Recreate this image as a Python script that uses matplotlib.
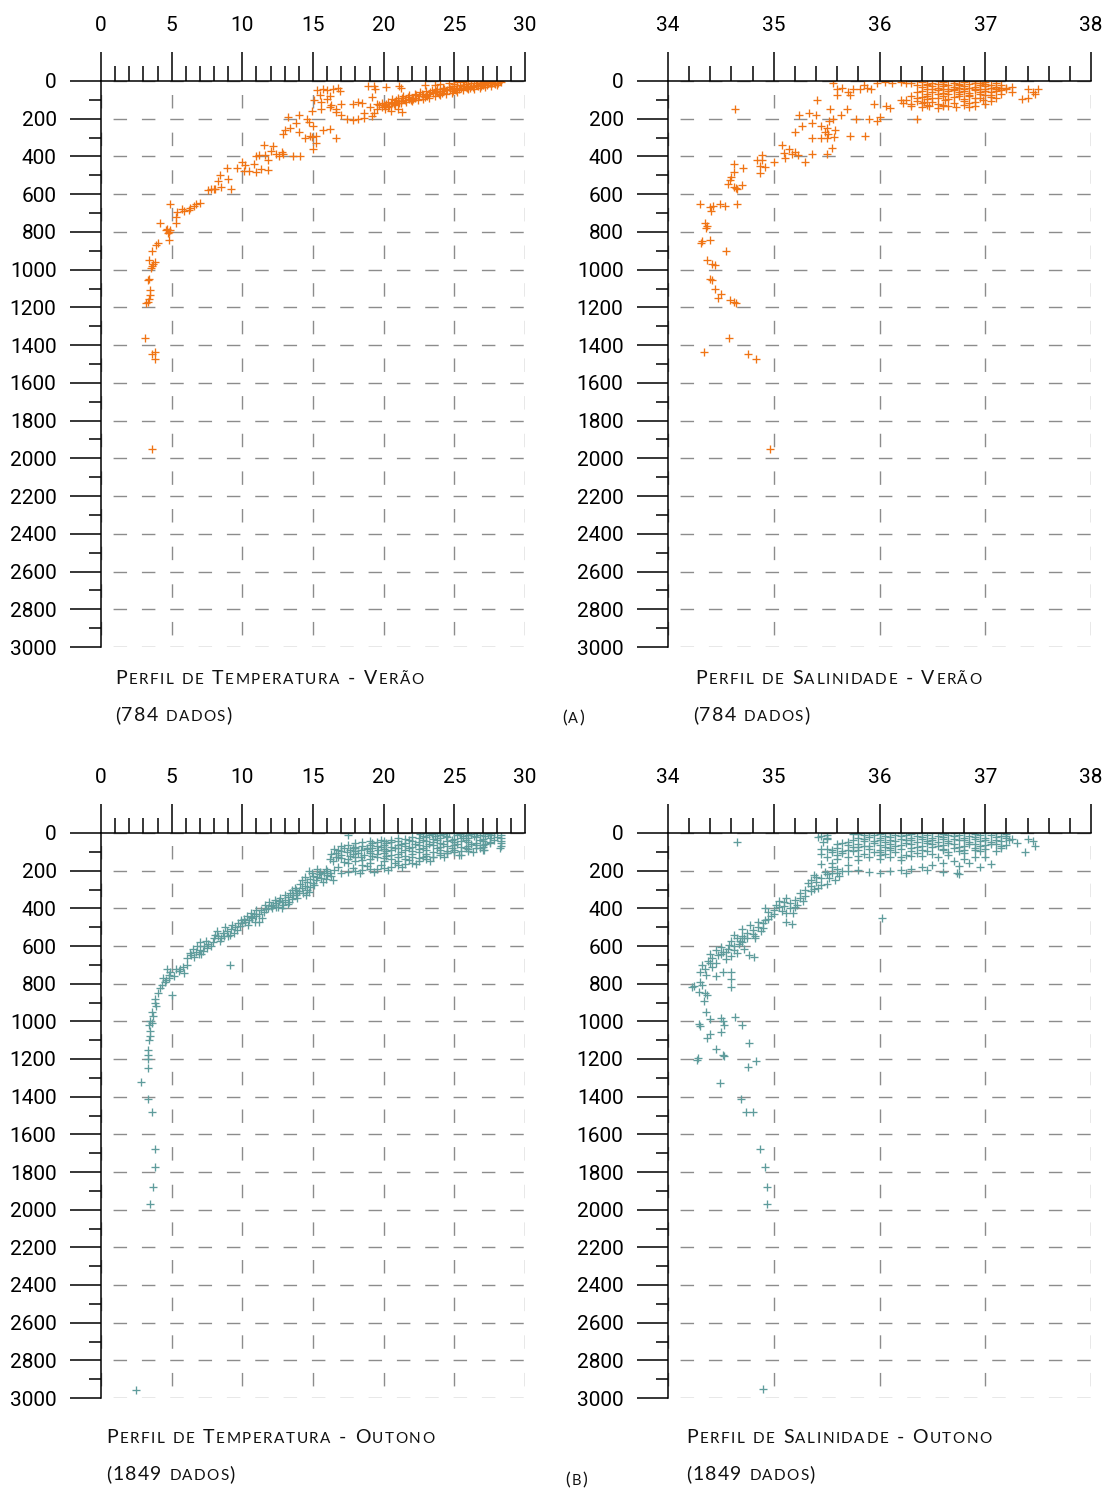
import matplotlib.pyplot as plt
import numpy as np
from matplotlib.ticker import MultipleLocator

W, H = 1106, 1490
LARANJA = '#f07414'
VERDE = '#5f9c9c'
FONTE_EIXO = 'Roboto'
FONTE_TEXTO = 'Lato'

# (temperatura, profundidade) - verao
verao_temp = [
    (28.3, 5), (28.0, 8), (27.8, 12), (27.5, 10), (27.2, 15), (27.0, 20), (26.8, 18), (26.5, 22),
    (26.2, 28), (26.0, 25), (25.8, 32), (25.5, 35), (25.2, 40), (25.0, 38), (24.8, 45), (24.5, 50),
    (24.2, 55), (24.0, 52), (23.8, 60), (23.5, 65), (23.2, 70), (23.0, 72), (22.8, 78), (22.5, 82),
    (22.2, 88), (22.0, 92), (21.8, 95), (21.5, 100), (21.2, 105), (21.0, 108), (20.8, 112),
    (20.5, 115), (20.2, 120), (20.0, 125),
    (28.0, 20), (27.6, 25), (27.2, 30), (26.8, 35), (26.4, 40), (26.0, 45), (25.6, 50), (25.2, 58),
    (24.8, 62), (24.4, 70), (24.0, 75), (23.6, 82), (23.2, 88), (22.8, 95), (22.4, 100),
    (22.0, 108), (21.6, 112), (21.2, 118), (20.8, 125), (20.4, 130),
    (28.2, 0), (27.8, 0), (27.4, 2), (27.0, 5), (26.6, 8), (26.2, 12), (25.8, 15), (25.4, 20),
    (25.0, 25), (24.6, 30), (24.2, 38), (23.8, 42), (23.4, 50), (23.0, 55), (22.6, 60),
    (22.2, 68), (21.8, 75), (21.4, 80), (21.0, 88), (20.6, 95),
    (28.1, 10), (27.9, 15), (27.7, 8), (27.3, 20), (27.1, 10), (26.9, 25), (26.7, 28), (26.3, 32),
    (26.1, 35), (25.9, 38), (25.7, 25), (25.3, 45), (25.1, 50), (24.9, 55), (24.7, 40), (24.3, 45),
    (24.1, 65), (23.9, 70), (23.7, 55), (23.3, 60), (23.1, 80), (22.9, 85), (22.7, 70), (22.3, 75),
    (22.1, 98), (21.9, 102), (21.7, 85), (21.3, 92), (21.1, 115), (20.9, 100), (20.7, 120),
    (20.3, 110), (20.1, 132), (19.9, 118), (19.7, 128), (19.5, 122),
    (25.2, 5), (25.6, 3), (26.0, 0), (26.4, 2), (26.8, 0), (27.2, 0), (27.6, 5), (24.6, 10), (24.0, 15),
    (18.9, 25), (19.3, 25), (19.4, 45), (20.2, 30), (21.1, 25), (21.2, 38), (22.9, 20), (23.6, 20),
    (25.0, 15),
    (17.8, 120), (18.2, 110), (18.5, 115), (19.2, 85), (19.0, 140), (19.5, 150), (18.6, 170),
    (20.1, 150), (20.5, 160), (21.0, 150), (21.3, 165), (19.9, 140), (20.3, 140),
    (15.3, 50), (15.7, 42), (16.0, 48), (16.4, 45), (16.8, 38), (16.9, 55), (15.5, 75), (16.2, 80),
    (15.1, 100), (15.6, 110), (16.0, 95), (17.0, 120), (16.2, 140), (16.6, 150), (15.6, 150),
    (17.0, 180), (17.4, 200), (17.8, 205), (18.2, 200), (18.6, 195), (19.2, 185), (19.3, 170),
    (16.6, 165), (16.3, 125), (14.9, 160),
    (13.2, 190), (14.0, 180), (13.8, 225), (14.6, 200), (14.7, 215), (13.0, 258), (13.4, 248),
    (14.0, 270), (14.8, 290), (14.9, 295), (15.2, 290), (15.7, 260), (16.2, 255), (16.6, 300),
    (15.0, 240), (14.4, 300), (15.0, 360), (15.2, 330), (12.9, 280),
    (11.5, 340), (12.2, 345), (11.2, 390), (11.6, 392), (12.4, 385), (12.8, 375), (13.6, 395),
    (14.1, 395), (12.0, 370), (11.8, 420), (11.0, 400), (12.6, 395), (12.9, 385),
    (10.0, 430), (10.8, 440), (11.3, 465), (11.8, 470), (10.5, 475), (10.1, 475), (11.0, 480),
    (10.2, 445), (9.6, 460),
    (8.9, 460), (8.4, 500), (8.3, 530), (9.2, 570), (8.0, 575), (7.6, 578), (8.1, 570), (9.0, 520),
    (7.8, 575), (8.5, 560),
    (4.9, 652), (5.4, 692), (5.7, 678), (6.2, 682), (6.3, 672), (6.7, 650), (7.0, 645), (6.6, 660),
    (5.9, 690), (5.3, 720),
    (4.2, 754), (4.7, 782), (4.8, 798), (4.9, 790), (5.3, 751), (4.8, 843), (4.6, 790), (4.75, 805),
    (4.0, 860), (3.9, 870), (3.6, 900), (3.4, 949), (3.8, 958), (3.6, 980), (3.55, 990), (3.7, 970),
    (3.3, 1055), (3.4, 1050), (3.5, 1108), (3.5, 1134), (3.4, 1157), (3.2, 1178), (3.3, 1170),
    (3.1, 1360), (3.6, 1449), (3.8, 1434), (3.8, 1475), (3.6, 1950),
]

# (salinidade, profundidade) - verao
verao_sal = [
    (36.3, 10), (36.4, 5), (36.5, 8), (36.6, 5), (36.7, 10), (36.8, 5), (36.9, 8), (37.0, 5),
    (37.1, 10), (36.45, 15), (36.75, 15), (36.95, 12),
    (36.35, 20), (36.45, 22), (36.55, 18), (36.65, 20), (36.75, 22), (36.85, 18), (36.95, 22),
    (37.05, 20), (37.15, 22), (36.7, 0), (36.9, 0), (37.0, 15), (36.6, 15),
    (36.4, 30), (36.5, 25), (36.55, 35), (36.6, 28), (36.65, 40), (36.7, 30), (36.75, 38),
    (36.8, 25), (36.85, 35), (36.9, 30), (36.95, 40), (37.0, 28), (37.05, 35), (37.1, 30),
    (37.15, 38), (37.2, 35), (37.25, 32), (36.45, 40),
    (36.5, 45), (36.6, 45), (36.7, 42), (36.8, 45), (36.9, 42), (37.0, 45), (37.1, 45), (37.2, 45),
    (36.4, 55), (36.5, 60), (36.55, 50), (36.6, 62), (36.65, 55), (36.7, 50), (36.75, 60),
    (36.8, 55), (36.85, 65), (36.9, 50), (36.95, 58), (37.0, 52), (37.05, 60), (37.1, 55),
    (37.15, 50), (36.35, 60),
    (36.45, 68), (36.55, 70), (36.65, 70), (36.75, 68), (36.85, 72), (36.95, 70), (37.05, 72),
    (37.15, 68), (37.25, 60),
    (36.3, 80), (36.4, 85), (36.45, 78), (36.5, 88), (36.6, 80), (36.7, 85), (36.75, 78),
    (36.85, 82), (36.9, 90), (37.0, 75), (37.05, 85), (36.55, 92),
    (36.35, 92), (36.45, 95), (36.65, 95), (36.8, 95), (36.95, 88), (37.1, 92),
    (36.25, 100), (36.35, 105), (36.42, 112), (36.5, 110), (36.55, 120), (36.62, 100),
    (36.7, 115), (36.8, 105), (36.9, 110), (36.98, 100), (37.05, 105), (36.45, 125),
    (36.3, 120), (36.4, 118), (36.6, 125), (36.65, 130), (36.8, 125), (36.85, 118), (36.3, 135),
    (36.55, 145), (36.85, 140), (37.0, 120),
    (36.4, 140), (36.6, 135), (36.72, 140), (36.9, 135), (36.47, 130), (36.2, 100), (36.22, 115),
    (37.4, 40), (37.45, 60), (37.5, 45), (37.4, 90), (37.35, 95), (37.47, 70),
    (36.05, 5), (36.12, 8), (36.2, 5), (36.25, 10),
    (35.56, 10), (35.6, 45), (35.65, 35), (35.7, 60), (35.75, 45), (35.82, 45), (35.88, 35),
    (35.92, 45), (35.98, 10), (35.72, 75), (35.85, 20), (35.6, 75),
    (35.41, 100), (35.53, 150), (35.69, 150), (35.95, 120), (36.06, 135), (36.1, 145), (36.35, 200),
    (35.24, 180), (35.33, 170), (35.4, 180), (35.52, 210), (35.56, 200), (35.64, 180), (35.78, 200),
    (35.9, 200), (36.0, 190), (35.98, 210),
    (35.27, 240), (35.36, 225), (35.45, 240), (35.48, 270), (35.5, 250), (35.58, 260), (35.2, 270),
    (35.36, 300), (35.45, 300), (35.5, 300), (35.57, 295), (35.72, 290), (35.86, 290), (35.51, 280),
    (35.08, 340), (35.14, 360), (35.1, 380), (35.17, 385), (35.2, 375), (35.23, 390), (35.36, 385),
    (35.5, 388), (35.55, 355), (35.11, 410), (35.3, 430),
    (34.89, 390), (34.84, 420), (34.89, 420), (34.87, 450), (34.92, 455), (35.0, 430), (34.62, 440),
    (34.71, 460), (34.62, 480), (34.87, 490), (34.6, 510),
    (34.57, 545), (34.62, 560), (34.64, 565), (34.7, 550), (34.59, 525), (34.65, 570),
    (34.3, 650), (34.4, 670), (34.43, 660), (34.49, 650), (34.54, 665), (34.65, 650), (34.41, 690),
    (34.35, 750), (34.37, 770), (34.36, 780), (34.31, 860), (34.32, 850), (34.4, 843), (34.55, 900),
    (34.37, 950), (34.42, 970), (34.44, 975), (34.4, 1050), (34.42, 1055), (34.44, 1105),
    (34.5, 1130), (34.47, 1150), (34.59, 1160), (34.62, 1170), (34.64, 1178), (34.58, 1360),
    (34.34, 1438), (34.76, 1449), (34.83, 1475), (34.96, 1950), (34.63, 150),
]

# (temperatura, profundidade) - outono
outono_temp = [
    (22.6, 5), (23.0, 0), (23.4, 3), (23.8, 0), (24.2, 5), (24.6, 2), (25.0, 0), (25.4, 4),
    (25.8, 0), (26.2, 5), (26.6, 2), (27.0, 0), (27.4, 5), (27.8, 2), (23.2, 10), (24.0, 12),
    (25.2, 10), (26.0, 12), (26.8, 10), (27.6, 12),
    (22.8, 15), (23.6, 15), (24.4, 15), (25.6, 15), (26.4, 15), (27.2, 18),
    (21.0, 25), (21.5, 30), (22.0, 22), (22.5, 28), (23.0, 20), (23.5, 30), (24.0, 25), (24.5, 22),
    (25.0, 30), (25.5, 25), (26.0, 28), (26.5, 22), (27.0, 30), (27.5, 25), (28.0, 20), (20.5, 35),
    (19.8, 38),
    (21.8, 35), (22.8, 38), (23.8, 38), (24.8, 38), (25.8, 38), (26.8, 38), (27.8, 35),
    (18.5, 50), (19.0, 45), (19.5, 50), (20.0, 42), (20.5, 48), (21.0, 45), (21.5, 52), (22.0, 45),
    (22.5, 50), (23.0, 42), (23.5, 48), (24.0, 52), (24.5, 45), (25.0, 50), (25.5, 42), (26.0, 48),
    (26.5, 52), (27.0, 45), (27.5, 50), (18.0, 55),
    (19.2, 55), (20.2, 55), (21.2, 58), (22.2, 58), (23.2, 58), (24.2, 58), (25.2, 58), (26.2, 58),
    (27.2, 58),
    (17.0, 70), (17.5, 65), (18.0, 72), (18.5, 68), (19.0, 62), (19.5, 70), (20.0, 65), (20.5, 72),
    (21.0, 62), (21.5, 68), (22.0, 75), (22.5, 65), (23.0, 70), (23.5, 62), (24.0, 72), (24.5, 68),
    (25.0, 62), (25.5, 75), (26.0, 70), (26.5, 65), (27.0, 72),
    (17.8, 78), (18.8, 78), (19.8, 76), (20.8, 78), (21.8, 80), (22.8, 78), (23.8, 80), (24.8, 78),
    (25.8, 80), (26.8, 80),
    (16.5, 85), (16.8, 90), (17.2, 80), (17.6, 88), (18.0, 82), (18.4, 92), (18.8, 85), (19.2, 80),
    (19.6, 90), (20.0, 85), (20.5, 92), (21.0, 82), (21.5, 88), (22.0, 95), (22.5, 85), (23.0, 92),
    (24.0, 90), (25.0, 88), (26.0, 95), (27.0, 90),
    (17.0, 95), (18.0, 98), (19.0, 95), (20.2, 98), (21.2, 100), (22.5, 102), (23.5, 100),
    (24.5, 95), (24.0, 105), (23.0, 120),
    (16.3, 110), (16.6, 105), (17.0, 115), (17.4, 100), (17.8, 110), (18.2, 105), (18.6, 115),
    (19.0, 108), (19.5, 112), (20.0, 105), (20.5, 118), (21.0, 110), (21.5, 120), (22.0, 112),
    (23.0, 110), (24.5, 105), (25.5, 115),
    (16.8, 125), (17.6, 122), (18.4, 125), (19.2, 120), (20.2, 122), (21.0, 128), (22.0, 125),
    (16.2, 140), (16.6, 130), (17.0, 135), (17.5, 140), (18.0, 130), (19.0, 140), (20.0, 135),
    (21.5, 140), (22.5, 135), (23.5, 130), (16.4, 150), (17.2, 152), (18.5, 145), (21.0, 150),
    (28.3, 10), (28.3, 25), (28.3, 40), (28.3, 55), (28.3, 70), (28.2, 80), (27.1, 90), (17.5, 10),
    (16.0, 200), (16.5, 195), (17.0, 210), (17.5, 205), (18.0, 200), (18.5, 198), (19.0, 192),
    (19.5, 190), (20.0, 185), (20.5, 180), (21.0, 172), (21.5, 165), (22.0, 158), (22.5, 150),
    (23.0, 140), (23.5, 125), (24.0, 115), (24.5, 108), (25.0, 100), (25.5, 95), (26.0, 85),
    (26.5, 78), (27.0, 65), (27.5, 55), (16.8, 180), (17.8, 185), (18.8, 175), (19.8, 168),
    (20.8, 160), (21.8, 145), (22.8, 128), (18.3, 215), (19.3, 205), (20.3, 195), (21.3, 180),
    (22.3, 165), (23.3, 150), (24.3, 130), (25.3, 115), (26.3, 100),
    (17.5, 160), (18.0, 150), (18.5, 170), (19.0, 160), (20.0, 150), (20.5, 140), (19.5, 130),
    (14.6, 260), (14.8, 245), (15.0, 230), (15.2, 250), (15.4, 220), (15.6, 240), (15.8, 210),
    (16.0, 225), (15.0, 265), (15.5, 205), (16.2, 215), (14.9, 215), (15.3, 190), (16.4, 250),
    (15.7, 260), (14.7, 200), (15.9, 190),
    (14.2, 250), (15.3, 235), (15.9, 245), (16.3, 230), (14.4, 235), (15.1, 275),
    (13.2, 340), (13.4, 320), (13.6, 330), (13.8, 300), (14.0, 310), (14.2, 290), (14.4, 280),
    (13.5, 350), (13.9, 345), (14.3, 320), (14.6, 300), (13.0, 330), (14.1, 270), (13.7, 290),
    (14.8, 285), (14.5, 330), (13.5, 305), (13.9, 320), (14.7, 315), (13.3, 365), (13.8, 330),
    (11.8, 400), (12.0, 385), (12.2, 380), (12.4, 370), (12.6, 360), (12.8, 365), (13.0, 355),
    (12.1, 400), (12.5, 395), (12.9, 380), (11.6, 380), (12.3, 355), (13.2, 375),
    (12.7, 345), (12.4, 395), (11.9, 365), (12.8, 400),
    (9.8, 495), (10.0, 480), (10.2, 470), (10.5, 460), (10.7, 450), (11.0, 440), (11.2, 430),
    (11.5, 420), (10.4, 490), (10.9, 470), (11.4, 450), (10.3, 440), (11.0, 410), (9.9, 460),
    (11.7, 405), (10.6, 425), (10.8, 430), (11.3, 410), (10.1, 455), (10.6, 445), (11.2, 470),
    (8.0, 555), (8.3, 545), (8.6, 530), (8.9, 520), (9.2, 510), (9.5, 500), (8.5, 555), (9.0, 545),
    (9.4, 530), (8.2, 520), (9.7, 480), (8.8, 500), (9.1, 540), (9.3, 490), (8.7, 545), (9.6, 515),
    (8.1, 540),
    (6.1, 665), (6.4, 650), (6.7, 630), (7.0, 620), (7.3, 600), (7.6, 590), (7.9, 580), (6.6, 660),
    (7.1, 645), (7.5, 610), (6.8, 600), (7.0, 580), (7.8, 600), (6.3, 635), (9.1, 700),
    (7.4, 575), (7.2, 625), (6.9, 640), (6.5, 615), (8.4, 575),
    (5.5, 735), (6.1, 700), (4.8, 752), (4.8, 770), (4.3, 805), (4.2, 822), (5.0, 860), (5.3, 720),
    (4.6, 780), (5.8, 710), (4.9, 740), (4.5, 790), (3.8, 884), (5.2, 760),
    (5.6, 720), (5.9, 745), (4.4, 770), (4.7, 720),
    (4.0, 850), (3.8, 900), (3.6, 950), (3.5, 1000), (3.4, 1020), (3.5, 1050), (3.45, 1080),
    (3.4, 1100), (3.35, 1150), (3.3, 1180), (3.35, 1200), (3.3, 1250), (3.6, 1010), (3.7, 970),
    (3.9, 920), (2.8, 1320), (3.3, 1415), (3.6, 1480), (3.8, 1680), (3.8, 1775), (3.7, 1880),
    (3.5, 1970), (2.5, 2960),
]

# (salinidade, profundidade) - outono
outono_sal = [
    (35.8, 5), (35.9, 0), (36.0, 5), (36.1, 2), (36.2, 0), (36.3, 5), (36.4, 2), (36.5, 0),
    (36.6, 5), (36.7, 2), (36.8, 0), (36.9, 5), (37.0, 2), (37.1, 0), (37.2, 5), (35.5, 10),
    (35.45, 15),
    (35.75, 5), (35.85, 12), (35.95, 12), (36.05, 15), (36.15, 10), (36.25, 12), (36.35, 14),
    (36.45, 10), (36.55, 14), (36.65, 12), (36.75, 10), (36.85, 14), (36.95, 12), (37.05, 10),
    (37.15, 14),
    (35.8, 25), (35.9, 20), (36.0, 28), (36.1, 22), (36.2, 18), (36.3, 25), (36.4, 20), (36.5, 28),
    (36.6, 22), (36.7, 18), (36.8, 25), (36.9, 20), (37.0, 28), (37.1, 22), (37.2, 18), (37.25, 30),
    (35.5, 30),
    (35.75, 35), (35.85, 32), (36.0, 35), (36.1, 35), (36.2, 30), (36.3, 35), (36.4, 32), (36.5, 35),
    (36.6, 32), (36.7, 30), (36.8, 35), (36.9, 32), (37.0, 38), (37.1, 35), (37.2, 25),
    (35.7, 50), (35.85, 45), (35.95, 40), (36.05, 48), (36.15, 42), (36.25, 38), (36.35, 46),
    (36.45, 40), (36.55, 48), (36.65, 42), (36.75, 36), (36.85, 46), (36.95, 40), (37.05, 48),
    (37.15, 42), (37.22, 38), (35.47, 50),
    (35.65, 55), (35.75, 72), (35.85, 70), (35.95, 55), (36.05, 72), (36.15, 68), (36.25, 52),
    (36.35, 72), (36.45, 55), (36.55, 70), (36.65, 52), (36.75, 72), (36.85, 56), (36.95, 70),
    (37.05, 56), (37.15, 70),
    (35.6, 60), (35.7, 65), (35.8, 58), (35.9, 68), (36.0, 62), (36.1, 56), (36.2, 66), (36.3, 60),
    (36.4, 70), (36.5, 58), (36.6, 64), (36.7, 56), (36.8, 68), (36.9, 60), (37.0, 66), (37.1, 58),
    (37.2, 62),
    (35.5, 85), (35.6, 80), (35.7, 88), (35.8, 76), (35.9, 84), (36.0, 90), (36.1, 78), (36.2, 86),
    (36.3, 80), (36.4, 90), (36.5, 76), (36.6, 84), (36.7, 80), (36.8, 88), (36.9, 78), (37.0, 85),
    (37.15, 80),
    (35.55, 92), (35.65, 95), (35.8, 92), (36.0, 100), (36.1, 92), (36.3, 95), (36.45, 96),
    (36.6, 92), (36.75, 95), (36.9, 92), (37.1, 95),
    (35.45, 110), (35.55, 100), (35.65, 108), (35.75, 98), (35.85, 112), (35.95, 102),
    (36.05, 110), (36.15, 100), (36.25, 115), (36.35, 105), (36.5, 110), (36.65, 100),
    (36.8, 108), (36.95, 98),
    (35.6, 118), (35.8, 120), (36.0, 118), (36.2, 125), (36.4, 122), (36.65, 115),
    (35.5, 125), (35.7, 130), (35.9, 125), (36.1, 130), (36.3, 120), (36.55, 128),
    (35.6, 140), (35.8, 145), (36.0, 140), (36.2, 145),
    (37.4, 30), (37.45, 45), (37.47, 70), (37.38, 100), (37.3, 55),
    (35.42, 20), (35.5, 25), (35.45, 85), (34.65, 48),
    (35.45, 165), (35.55, 180), (35.6, 190), (35.7, 200), (35.8, 195), (35.9, 205), (36.0, 210),
    (36.1, 200), (36.2, 195), (36.3, 190), (36.4, 180), (36.5, 172), (36.6, 160), (36.7, 150),
    (36.8, 140), (36.9, 130), (37.0, 125), (36.45, 195), (36.6, 205), (36.25, 210), (36.75, 175),
    (36.85, 160), (36.73, 215), (37.05, 165), (36.95, 180), (36.75, 220),
    (35.3, 300), (35.35, 280), (35.4, 260), (35.45, 240), (35.5, 220), (35.55, 210), (35.35, 310),
    (35.42, 290), (35.5, 270), (35.58, 250), (35.62, 230), (35.4, 235), (35.48, 205), (35.32, 265),
    (35.65, 200), (35.55, 160), (35.7, 170), (35.38, 225),
    (35.35, 250), (35.45, 275), (35.52, 240), (35.6, 215), (35.25, 320), (35.38, 295),
    (34.95, 420), (35.0, 410), (35.05, 395), (35.1, 385), (35.15, 370), (35.2, 355), (35.25, 345),
    (35.0, 430), (35.08, 415), (35.15, 400), (35.22, 380), (35.28, 360), (35.12, 345), (35.3, 335),
    (34.92, 400), (35.05, 360), (35.18, 425), (35.1, 365), (35.2, 395), (35.02, 380), (35.12, 425),
    (34.97, 440),
    (34.6, 575), (34.65, 560), (34.7, 545), (34.75, 530), (34.8, 515), (34.85, 500), (34.9, 480),
    (34.68, 575), (34.75, 560), (34.82, 545), (34.88, 520), (34.92, 460), (34.7, 510),
    (34.78, 490), (34.62, 540), (34.95, 455), (34.85, 470), (34.8, 535), (34.72, 560), (34.9, 505),
    (34.38, 680), (34.42, 665), (34.47, 650), (34.52, 630), (34.57, 615), (34.62, 600),
    (34.67, 590), (34.4, 640), (34.5, 605), (34.55, 670), (34.6, 655), (34.45, 620), (34.72, 615),
    (34.65, 635), (34.7, 580), (34.58, 595), (34.5, 640), (34.45, 690), (34.55, 630), (34.62, 620),
    (36.02, 450), (35.17, 485), (34.81, 660), (35.12, 475), (34.77, 650), (34.82, 560),
    (34.32, 700), (34.35, 720), (34.4, 690), (34.3, 740), (34.36, 755), (34.42, 710), (34.52, 740),
    (34.6, 740), (34.6, 775), (34.6, 820), (34.45, 760),
    (34.23, 818), (34.25, 810), (34.3, 790), (34.32, 805), (34.29, 845), (34.35, 850), (34.37, 860),
    (34.34, 890), (34.36, 950),
    (34.29, 1015), (34.3, 1025), (34.4, 985), (34.5, 980), (34.52, 1000), (34.53, 1020),
    (34.63, 975), (34.7, 1020), (34.4, 1065), (34.5, 1055), (34.37, 1090), (34.77, 1113),
    (34.45, 1145), (34.52, 1180), (34.53, 1185),
    (34.27, 1203), (34.28, 1195), (34.76, 1245), (34.83, 1213), (34.49, 1325), (34.69, 1415),
    (34.74, 1480), (34.8, 1480), (34.87, 1680), (34.92, 1775), (34.94, 1880), (34.94, 1970),
    (34.9, 2950),
]

fig = plt.figure(figsize=(W / 100, H / 100), dpi=100)


def make_axes(left, top, right, bottom, xlim, xmajor, xminor):
    ax = fig.add_axes([left / W, 1 - bottom / H, (right - left) / W, (bottom - top) / H])
    ax.set_xlim(*xlim)
    ax.set_ylim(3000, 0)
    ax.xaxis.tick_top()
    for side in ('right', 'bottom'):
        ax.spines[side].set_visible(False)
    for side in ('top', 'left'):
        ax.spines[side].set_linewidth(1.1)
    ax.xaxis.set_major_locator(MultipleLocator(xmajor))
    ax.xaxis.set_minor_locator(MultipleLocator(xminor))
    ax.yaxis.set_major_locator(MultipleLocator(200))
    ax.yaxis.set_minor_locator(MultipleLocator(100))
    ax.tick_params(axis='x', which='major', length=21, width=1.1, pad=12, labelsize=15)
    ax.tick_params(axis='x', which='minor', length=11, width=1.1)
    ax.tick_params(axis='y', which='major', length=22, width=1.1, pad=10, labelsize=15)
    ax.tick_params(axis='y', which='minor', length=8.5, width=1.1)
    for lab in ax.get_xticklabels() + ax.get_yticklabels():
        lab.set_fontfamily(FONTE_EIXO)
    ax.set_axisbelow(True)
    ax.grid(axis='x', which='major', color='#8c8c8c', linewidth=1.0,
            linestyle=(18.4, (9.7, 17.4)))
    ax.grid(axis='y', which='major', color='#8c8c8c', linewidth=1.0,
            linestyle=(11.7, (9.7, 10.7)))
    return ax


def scatter(ax, dados, cor):
    arr = np.array(dados)
    ax.plot(arr[:, 0], arr[:, 1], '+', color=cor, markersize=6, markeredgewidth=0.95,
            linestyle='none')


def versalete(x, y, texto, grande=14, pequeno=11, espaco=1.5, branco=7):
    # letras minusculas viram maiusculas menores (small caps)
    renderer = fig.canvas.get_renderer()
    for ch in texto:
        if ch == ' ':
            x += branco
            continue
        size = pequeno if ch.islower() else grande
        t = fig.text(x / W, 1 - y / H, ch.upper(), fontsize=size, family=FONTE_TEXTO,
                     color='#111111', ha='left', va='baseline')
        x += t.get_window_extent(renderer).width + espaco


ax1 = make_axes(101, 81, 525, 647, (0, 30), 5, 1)
ax2 = make_axes(668, 81, 1091, 647, (34, 38), 1, 0.2)
ax3 = make_axes(101, 833, 525, 1398, (0, 30), 5, 1)
ax4 = make_axes(668, 833, 1091, 1398, (34, 38), 1, 0.2)

scatter(ax1, verao_temp, LARANJA)
scatter(ax2, verao_sal, LARANJA)
scatter(ax3, outono_temp, VERDE)
scatter(ax4, outono_sal, VERDE)

versalete(115, 684, 'Perfil de Temperatura - Verão')
versalete(115, 721, '(784 dados)', espaco=1.2)
versalete(695, 684, 'Perfil de Salinidade - Verão')
versalete(693, 721, '(784 dados)', espaco=1.2)
versalete(562, 723, '(a)', grande=13, pequeno=10.5)

versalete(106, 1443, 'Perfil de Temperatura - Outono')
versalete(106, 1480, '(1849 dados)', espaco=1.2)
versalete(686, 1443, 'Perfil de Salinidade - Outono')
versalete(686, 1480, '(1849 dados)', espaco=1.2)
versalete(565, 1485, '(b)', grande=13, pequeno=10.5)

fig.savefig('out.png', dpi=100)
